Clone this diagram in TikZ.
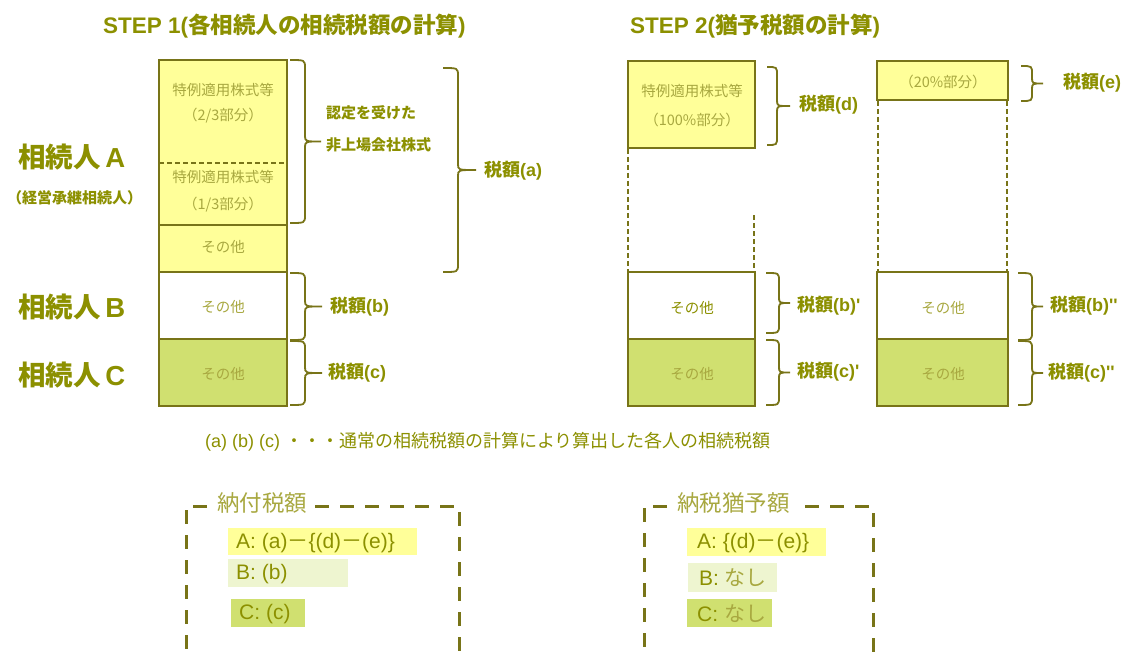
\documentclass[tikz,border=0pt]{standalone}
\usepackage{fontspec}
\setmainfont{Noto Sans CJK JP}
\newfontfamily\la{Liberation Sans}
\definecolor{ol}{HTML}{787418}
\definecolor{tx}{HTML}{8C9000}
\definecolor{lt}{HTML}{A8A840}
\definecolor{yel}{HTML}{FFFF99}
\definecolor{grn}{HTML}{D0E070}
\definecolor{lgr}{HTML}{EEF5D0}
\newcommand\mybrace[5]{%
  \pgfmathsetmacro\ym{(#4+#5)/2}%
  \draw[brc] (#1,#4) .. controls (#2,#4) .. (#2,#4+8) -- (#2,\ym-6) .. controls (#2,\ym) .. (#3,\ym)
             .. controls (#2,\ym) .. (#2,\ym+6) -- (#2,#5-8) .. controls (#2,#5) .. (#1,#5);}
\begin{document}
\begin{tikzpicture}[x=1pt,y=-1pt,
  boxl/.style={draw=ol,line width=2.6pt},
  brc/.style={draw=ol,line width=1.8pt},
  dln/.style={draw=ol,line width=1.6pt,dash pattern=on 5pt off 3pt},
  dbox/.style={draw=ol,line width=3pt,dash pattern=on 14pt off 11pt},
  ttl/.style={text=tx,font=\bfseries\fontsize{22.5}{22.5}\selectfont,inner sep=0},
  big/.style={text=tx,font=\bfseries\fontsize{27.5}{27.5}\selectfont,inner sep=0},
  lab/.style={text=tx,font=\bfseries\fontsize{18}{18}\selectfont,inner sep=0},
  mid/.style={text=tx,font=\bfseries\fontsize{15}{15}\selectfont,inner sep=0},
  inb/.style={text=lt,font=\fontsize{14.5}{14.5}\selectfont,inner sep=0},
  foot/.style={text=tx,font=\fontsize{18}{18}\selectfont,inner sep=0},
  dtl/.style={text=lt,font=\fontsize{22.5}{22.5}\selectfont,inner sep=0},
  row/.style={text=tx,font=\fontsize{21}{21}\selectfont,inner sep=0}]
\useasboundingbox (0,0) rectangle (1126,655);
\fill[white] (0,0) rectangle (1126,655);

% titles
\node[ttl,anchor=west] (t1) at (103,26) {{\la STEP 1(}各相続人の相続税額の計算{\la )}};
\node[ttl,anchor=west] (t2) at (630,26) {{\la STEP 2(}猶予税額の計算{\la )}};

% left labels
\node[big,anchor=west] (la) at (18,157) {相続人{\la\,A}};
\node[mid,anchor=west] (la2) at (7,198) {（経営承継相続人）};
\node[big,anchor=west] (lb) at (18,307) {相続人{\la\,B}};
\node[big,anchor=west] (lc) at (18,375) {相続人{\la\,C}};

% STEP 1 column
\fill[yel] (159,60) rectangle (287,272);
\draw[dln] (159,163) -- (287,163);
\draw[ol,line width=1.2pt] (159,225) -- (287,225);
\draw[boxl] (159,60) rectangle (287,272);
\draw[boxl] (159,272) rectangle (287,339);
\fill[grn] (159,339) rectangle (287,406);
\draw[boxl] (159,339) rectangle (287,406);
\node[inb] (s1) at (223,90) {特例適用株式等};
\node[inb] (s2) at (223,116) {（2/3部分）};
\node[inb] (s3) at (223,177) {特例適用株式等};
\node[inb] (s4) at (223,205) {（1/3部分）};
\node[inb] (s5) at (223,247) {その他};
\node[inb] (s6) at (223,307) {その他};
\node[inb] (s7) at (223,374) {その他};

\mybrace{290}{305}{321}{60}{223}
\node[mid,anchor=west] (n1) at (326,113) {認定を受けた};
\node[mid,anchor=west] (n2) at (326,145) {非上場会社株式};
\mybrace{443}{458}{476}{68}{272}
\node[lab,anchor=west] (ta) at (484,171) {税額{\la(a)}};
\mybrace{290}{305}{322}{273}{340}
\node[lab,anchor=west] (tb) at (330,307) {税額{\la(b)}};
\mybrace{290}{305}{322}{341}{405}
\node[lab,anchor=west] (tc) at (328,373) {税額{\la(c)}};

% STEP 2 column 1
\fill[yel] (628,61) rectangle (755,148);
\draw[boxl] (628,61) rectangle (755,148);
\draw[dln] (628,149) -- (628,272);
\draw[dln] (754,215) -- (754,272);
\draw[boxl] (628,272) rectangle (755,339);
\fill[grn] (628,339) rectangle (755,406);
\draw[boxl] (628,339) rectangle (755,406);
\node[inb] (u1) at (692,91) {特例適用株式等};
\node[inb] (u2) at (692,120) {（100\%部分）};
\node[inb,text=tx] (u3) at (692,308) {その他};
\node[inb] (u4) at (692,374) {その他};
\mybrace{767}{777}{790}{67}{145}
\node[lab,anchor=west] (td) at (799,105) {税額{\la(d)}};
\mybrace{766}{779}{790}{273}{333}
\node[lab,anchor=west] (tb1) at (797,306) {税額{\la(b)'}};
\mybrace{766}{779}{790}{340}{405}
\node[lab,anchor=west] (tc1) at (797,372) {税額{\la(c)'}};

% STEP 2 column 2
\fill[yel] (877,61) rectangle (1008,100);
\draw[boxl] (877,61) rectangle (1008,100);
\draw[dln] (878,101) -- (878,272);
\draw[dln] (1007,101) -- (1007,272);
\draw[boxl] (877,272) rectangle (1008,339);
\fill[grn] (877,339) rectangle (1008,406);
\draw[boxl] (877,339) rectangle (1008,406);
\node[inb] (v1) at (943,82) {（20\%部分）};
\node[inb] (v2) at (943,308) {その他};
\node[inb] (v3) at (943,374) {その他};
\mybrace{1021}{1032}{1043}{66}{101}
\node[lab,anchor=west] (te) at (1063,83) {税額{\la(e)}};
\mybrace{1018}{1032}{1043}{273}{340}
\node[lab,anchor=west] (tb2) at (1050,306) {税額{\la(b)''}};
\mybrace{1018}{1032}{1043}{341}{405}
\node[lab,anchor=west] (tc2) at (1048,373) {税額{\la(c)''}};

% footnote
\node[foot,anchor=west] (fn) at (205,442) {{\la(a) (b) (c) }・・・通常の相続税額の計算により算出した各人の相続税額};

% dashed box 1
\draw[dbox] (207,506) -- (186,506) -- (186,655);
\draw[dbox] (315,506) -- (459,506) -- (459,655);
\node[dtl,anchor=west] (d1) at (217,503) {納付税額};
\fill[yel] (228,528) rectangle (417,555);
\node[row,anchor=west] (a1) at (236,543) {{\la A: (a)}－{\la\{(d)}－{\la(e)\}}};
\fill[lgr] (228,559) rectangle (348,587);
\node[row,anchor=west] (b1) at (236,574) {\la B: (b)};
\fill[grn] (231,599) rectangle (305,627);
\node[row,anchor=west] (c1) at (239,614) {\la C: (c)};

% dashed box 2
\draw[dbox] (667,506) -- (644,506) -- (644,655);
\draw[dbox] (805,506) -- (873,506) -- (873,655);
\node[dtl,anchor=west] (d2) at (677,503) {納税猶予額};
\fill[yel] (687,528) rectangle (826,556);
\node[row,anchor=west] (a2) at (697,543) {{\la A: \{(d)}－{\la(e)\}}};
\fill[lgr] (688,563) rectangle (777,592);
\node[row,anchor=west] (b2) at (699,578) {{\la B: }\textcolor{lt}{なし}};
\fill[grn] (687,599) rectangle (772,627);
\node[row,anchor=west] (c2) at (697,614) {{\la C: }\textcolor{lt}{なし}};
\end{tikzpicture}
\end{document}
